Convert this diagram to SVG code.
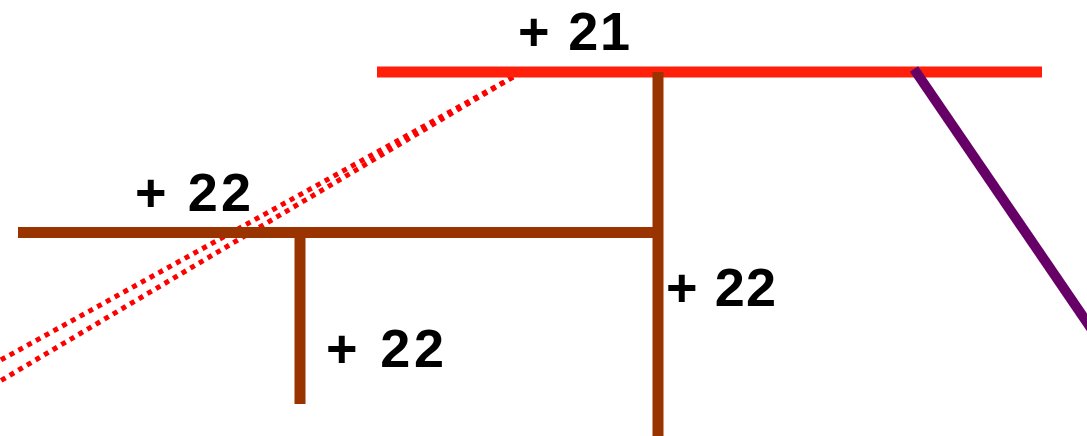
<svg xmlns="http://www.w3.org/2000/svg" width="1087" height="436" viewBox="0 0 1087 436">
<style>
.lbl{font-family:"Liberation Sans",Arial,sans-serif;font-weight:bold;font-size:54px;fill:#000}
.brown{stroke:#993300;stroke-width:11;fill:none}
.dots{stroke:#ff0000;stroke-width:5;stroke-dasharray:5 5;fill:none}
</style>
<rect width="1087" height="436" fill="#fff"/>
<g id="connectors">
<g id="dotted">
<line class="dots" x1="513" y1="77" x2="-10" y2="366"/>
<line class="dots" x1="513" y1="77" x2="-10" y2="387"/>
</g>
<line id="red-top" x1="377" y1="72" x2="1042" y2="72" stroke="#ff1f0a" stroke-width="11"/>
<line id="purple" x1="914" y1="69" x2="1095" y2="334" stroke="#660066" stroke-width="10"/>
<line class="brown" x1="658" y1="72" x2="658" y2="436"/>
<line class="brown" x1="18" y1="232.5" x2="663" y2="232.5"/>
<line class="brown" x1="300" y1="232" x2="300" y2="404"/>
</g>
<g id="label-21"><text class="lbl" x="518" y="50" textLength="112" lengthAdjust="spacing" xml:space="preserve">+ 21</text></g>
<g id="label-22a"><text class="lbl" x="135" y="211" textLength="116" lengthAdjust="spacing" xml:space="preserve">+ 22</text></g>
<g id="label-22b"><text class="lbl" x="666" y="306" textLength="110" lengthAdjust="spacing" xml:space="preserve">+ 22</text></g>
<g id="label-22c"><text class="lbl" x="326" y="367" textLength="118" lengthAdjust="spacing" xml:space="preserve">+ 22</text></g>
</svg>
